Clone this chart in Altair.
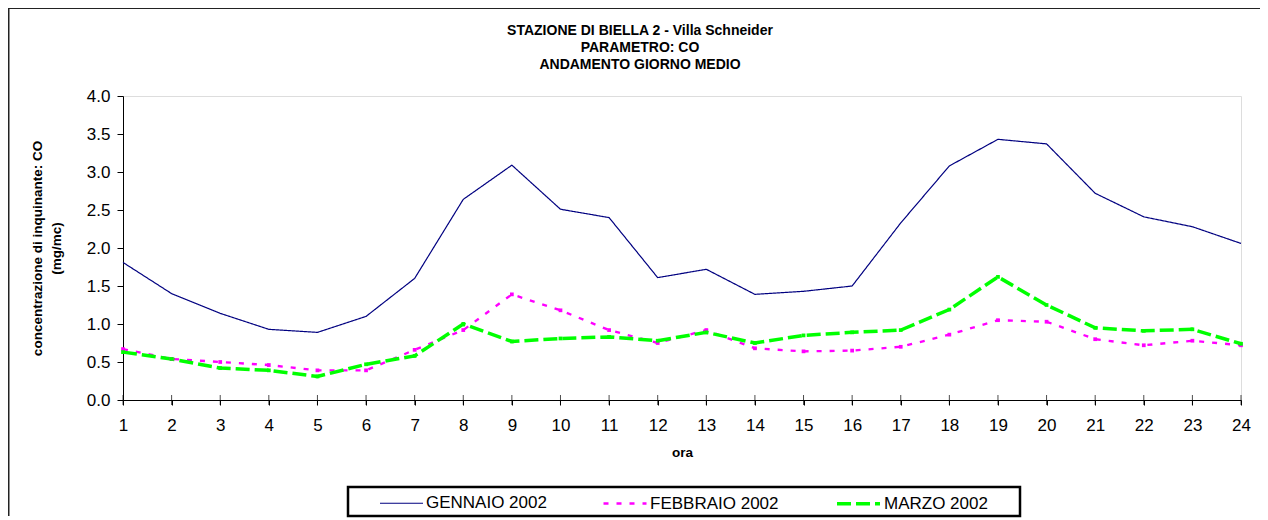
import altair as alt
import pandas as pd

ore = list(range(1, 25))
serie = ["GENNAIO 2002", "FEBBRAIO 2002", "MARZO 2002"]
gennaio = [1.81, 1.40, 1.14, 0.93, 0.89, 1.10, 1.60, 2.64, 3.09, 2.51, 2.40, 1.61,
           1.72, 1.39, 1.43, 1.50, 2.33, 3.08, 3.43, 3.37, 2.72, 2.41, 2.28, 2.06]
febbraio = [0.67, 0.54, 0.50, 0.46, 0.39, 0.39, 0.66, 0.92, 1.39, 1.18, 0.92, 0.75,
            0.92, 0.68, 0.64, 0.65, 0.70, 0.86, 1.05, 1.03, 0.80, 0.72, 0.78, 0.72]
marzo = [0.63, 0.54, 0.42, 0.39, 0.31, 0.47, 0.58, 1.00, 0.77, 0.81, 0.83, 0.78,
         0.89, 0.75, 0.85, 0.89, 0.92, 1.19, 1.62, 1.25, 0.95, 0.91, 0.93, 0.74]
y_ticks = [0, 0.5, 1.0, 1.5, 2.0, 2.5, 3.0, 3.5, 4.0]
colori = ["#000080", "#FF00FF", "#00FF00"]
titolo = ["STAZIONE DI BIELLA 2 - Villa Schneider", "PARAMETRO: CO", "ANDAMENTO GIORNO MEDIO"]
y_titolo = ["concentrazione di inquinante: CO", "(mg/mc)"]

rows = []
for s, vals in zip(serie, [gennaio, febbraio, marzo]):
    for h, v in zip(ore, vals):
        rows.append({"ora": h, "valore": v, "serie": s})
df = pd.DataFrame(rows)

FONT = "Liberation Sans"

x_scale = alt.Scale(domain=[1, 24], nice=False, zero=False)
y_scale = alt.Scale(domain=[0, 4], nice=False)
x_axis = alt.Axis(values=ore, format="d", title="ora", grid=False,
                  labelFontSize=17, labelFont=FONT, labelColor="black",
                  labelPadding=12, tickSize=5, tickColor="black",
                  domainColor="black", labelFlush=False, labelOverlap=False,
                  titleFont=FONT, titleFontSize=13.5, titleFontWeight="bold",
                  titleColor="black", titleY=52, titleBaseline="middle")
y_axis = alt.Axis(values=y_ticks, format=".1f", title=y_titolo, grid=False,
                  labelFontSize=17, labelFont=FONT, labelColor="black",
                  labelPadding=7, tickSize=6, tickColor="black",
                  domainColor="black", labelFlush=False, labelOverlap=False,
                  titleFont=FONT, titleFontSize=13.5, titleFontWeight="bold",
                  titleColor="black", titleAngle=270, titleX=-86, titleY=152,
                  titleBaseline="middle", titleAlign="center",
                  titleLineHeight=19)

x_enc = alt.X("ora:Q", scale=x_scale, axis=x_axis)
y_enc = alt.Y("valore:Q", scale=y_scale, axis=y_axis)

leg = alt.Legend(title=None, orient="none", legendX=256, legendY=384,
                 direction="horizontal", symbolType="stroke", symbolSize=1849,
                 labelFontSize=17, labelFont=FONT, labelColor="black", labelOffset=2,
                 columnPadding=51, padding=0, labelLimit=400)

base = alt.Chart(df).encode(x=x_enc, y=y_enc)

lines = base.mark_line().encode(
    stroke=alt.Stroke("serie:N", scale=alt.Scale(domain=serie, range=colori), legend=leg,
                      sort=serie),
    strokeDash=alt.StrokeDash("serie:N", scale=alt.Scale(domain=serie,
                              range=[[1, 0], [5, 8], [14, 5]]), legend=leg, sort=serie),
    strokeWidth=alt.StrokeWidth("serie:N", scale=alt.Scale(domain=serie, range=[1.2, 3.5, 3]),
                                legend=leg, sort=serie),
    order=alt.Order("ora:Q"),
)

points = base.transform_filter(
    alt.datum.serie != "GENNAIO 2002"
).mark_square(size=14, opacity=1).encode(
    fill=alt.Fill("serie:N", scale=alt.Scale(domain=serie[1:], range=colori[1:]), legend=None),
)

ticks = alt.Chart(pd.DataFrame({"ora": ore})).mark_tick(
    orient="vertical", color="black", size=10, thickness=1
).encode(x=alt.X("ora:Q", scale=x_scale, axis=x_axis),
         y=alt.YDatum(0, scale=y_scale, axis=y_axis))

one = pd.DataFrame({"a": [0]})
title_text = alt.Chart(one).mark_text(
    font=FONT, fontSize=14, fontWeight="bold", color="black", align="center",
    baseline="middle", lineHeight=17
).encode(x=alt.value(517), y=alt.value(-65), text=alt.value(titolo))
legend_box = alt.Chart(one).mark_rect(fill=None, stroke="black", strokeWidth=2.5).encode(
    x=alt.value(225), x2=alt.value(897), y=alt.value(391), y2=alt.value(420))
border_top = alt.Chart(one).mark_rule(color="#222222", strokeWidth=2).encode(
    x=alt.value(-115), x2=alt.value(1140), y=alt.value(-88))
border_left = alt.Chart(one).mark_rule(color="#222222", strokeWidth=2).encode(
    x=alt.value(-114.5), y=alt.value(-88), y2=alt.value(420))

chart = alt.layer(lines, points, ticks, title_text, legend_box, border_top, border_left).properties(
    width=1118, height=304,
    autosize=alt.AutoSizeParams(type="none"),
    padding={"left": 115, "top": 88, "right": 19, "bottom": 120},
).configure_view(stroke="#808080", strokeWidth=1.5).configure(background="white")

chart.save("out.html", embed_options={"renderer": "svg", "actions": False})
